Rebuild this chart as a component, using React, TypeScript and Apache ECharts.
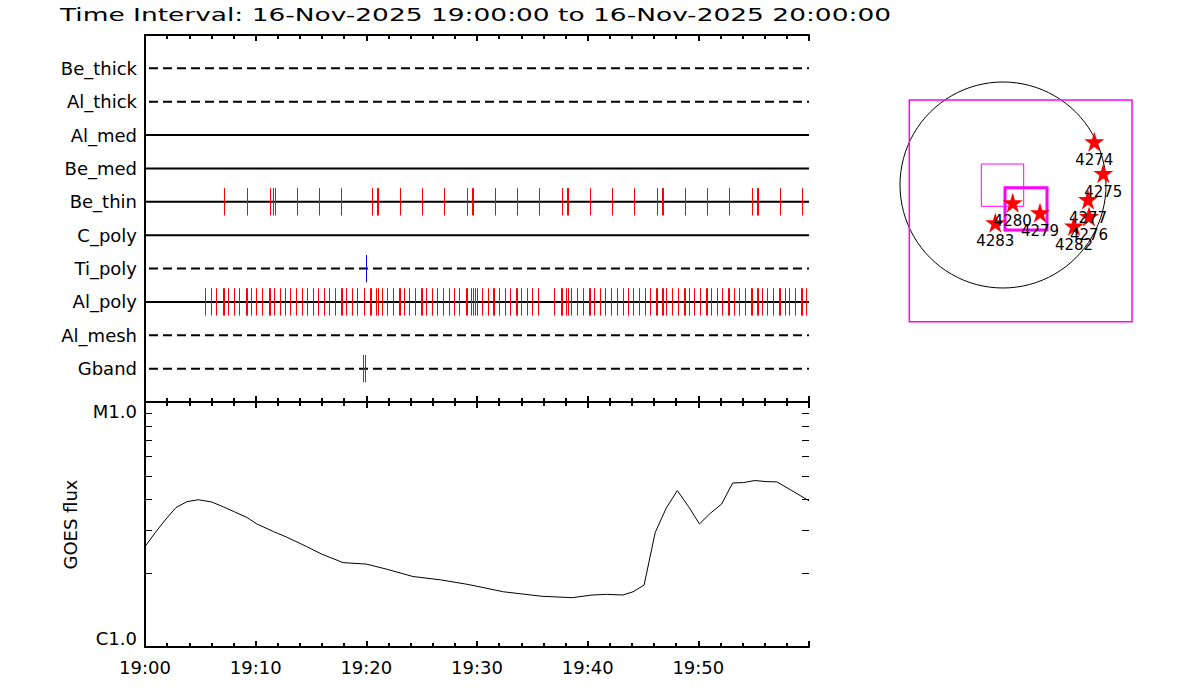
import React, { useEffect, useRef } from 'react';
import * as echarts from 'echarts';

const titleText = 'Time Interval: 16-Nov-2025 19:00:00 to 16-Nov-2025 20:00:00';
const startHour = 19;
const spanMinutes = 60;
const timeTickLabels = ['19:00', '19:10', '19:20', '19:30', '19:40', '19:50'];

const rowNames = ['Be_thick', 'Al_thick', 'Al_med', 'Be_med', 'Be_thin', 'C_poly', 'Ti_poly', 'Al_poly', 'Al_mesh', 'Gband'];
const rowInserted = [false, false, true, true, true, true, false, true, false, false];

const beThinTimes = [
  '19:07:10', '19:09:15', '19:11:19', '19:11:36', '19:11:46', '19:13:46', '19:15:45', '19:17:44',
  '19:20:32', '19:20:58', '19:21:03', '19:23:04', '19:25:03', '19:27:03', '19:29:07', '19:29:33',
  '19:29:38', '19:31:39', '19:33:38', '19:35:38', '19:37:42', '19:38:08', '19:38:13', '19:40:14',
  '19:42:14', '19:44:13', '19:46:18', '19:46:43', '19:46:48', '19:48:49', '19:50:49', '19:52:48',
  '19:54:53', '19:55:18', '19:55:23', '19:57:24', '19:59:24',
];
const tiPolyTimes = ['19:20:00'];
const alPolyTimes = [
  '19:05:27', '19:05:59', '19:06:27', '19:07:01', '19:07:06', '19:07:32', '19:08:04', '19:08:31',
  '19:09:06', '19:09:11', '19:09:36', '19:10:03', '19:10:36', '19:11:11', '19:11:16', '19:11:41',
  '19:12:14', '19:12:41', '19:13:08', '19:13:40', '19:14:13', '19:14:40', '19:15:12', '19:15:40',
  '19:16:12', '19:16:39', '19:17:12', '19:17:41', '19:17:46', '19:18:11', '19:18:44', '19:19:11',
  '19:19:49', '19:20:22', '19:20:27', '19:20:54', '19:21:05', '19:21:27', '19:21:54', '19:22:26',
  '19:22:55', '19:23:00', '19:23:26', '19:23:53', '19:24:25', '19:24:55', '19:25:00', '19:25:25',
  '19:25:54', '19:26:25', '19:26:57', '19:27:30', '19:27:57', '19:28:24', '19:28:59', '19:29:04',
  '19:29:27', '19:29:38', '19:29:49', '19:30:02', '19:30:29', '19:31:01', '19:31:28', '19:31:33',
  '19:32:01', '19:32:30', '19:33:01', '19:33:30', '19:33:35', '19:34:00', '19:34:33', '19:35:00',
  '19:35:32', '19:36:59', '19:37:34', '19:37:39', '19:38:04', '19:38:12', '19:38:31', '19:39:04',
  '19:39:36', '19:40:06', '19:40:11', '19:40:36', '19:41:09', '19:41:36', '19:42:08', '19:42:37',
  '19:43:10', '19:43:37', '19:44:07', '19:44:40', '19:45:09', '19:45:38', '19:46:09', '19:46:14',
  '19:46:41', '19:46:50', '19:47:06', '19:47:39', '19:48:11', '19:48:41', '19:48:46', '19:49:11',
  '19:49:38', '19:50:11', '19:50:43', '19:50:48', '19:51:10', '19:51:40', '19:52:10', '19:52:39',
  '19:52:44', '19:53:12', '19:53:42', '19:54:11', '19:54:44', '19:54:49', '19:55:16', '19:55:22',
  '19:55:44', '19:56:14', '19:56:43', '19:57:16', '19:57:21', '19:57:48', '19:58:13', '19:58:46',
  '19:59:15', '19:59:20', '19:59:44',
];
const gbandTimes = ['19:19:44', '19:19:53'];

// GOES flux: minutes after 19:00, flux in units of 1e-6 W/m^2
const goesMinutes = [
  0, 0.9, 1.9, 2.8, 3.8, 4.8, 6.0, 7.1, 8.1, 9.2, 10.1, 11.6, 12.8, 14.6, 16.0, 17.9, 20.0, 21.8,
  24.2, 26.7, 29.2, 32.4, 35.9, 38.6, 40.4, 41.7, 43.2, 44.1, 45.1, 46.1, 47.1, 48.1, 49.1, 50.1,
  51.1, 52.1, 53.1, 54.1, 55.1, 56.2, 57.1, 58.3, 60,
];
const goesFluxE6 = [
  2.57, 2.92, 3.33, 3.71, 3.92, 3.99, 3.91, 3.73, 3.56, 3.38, 3.18, 2.96, 2.81, 2.57, 2.39, 2.21, 2.18, 2.08,
  1.94, 1.88, 1.80, 1.68, 1.61, 1.59, 1.63, 1.64, 1.63, 1.68, 1.79, 2.93, 3.69, 4.35, 3.75, 3.18,
  3.52, 3.83, 4.67, 4.69, 4.78, 4.73, 4.72, 4.39, 3.95,
];
const goesClassFlux = [1e-6, 1e-5];
const goesClassLabels = ['C1.0', 'M1.0'];
const goesMinorFlux = [2e-6, 3e-6, 4e-6, 5e-6, 6e-6, 7e-6, 8e-6, 9e-6];

// Map (arcsec)
const arNumbers = ['4274', '4275', '4277', '4276', '4282', '4279', '4280', '4283'];
const arX = [913, 1003, 850, 860, 710, 370, 97, -77];
const arY = [433, 117, -145, -315, -410, -277, -177, -377];
const solarRadius = 1030;
const fovBox = [-937, 850, 1290, -1368];
const thinBox = [-217, 210, 207, -213];
const thickBox = [20, -27, 440, -450];

const FONT = '"DejaVu Sans", sans-serif';
const STAR = 'path://M50,0 L61.8,35.3 L100,35.3 L69.1,57.1 L80.9,92.7 L50,70.6 L19.1,92.7 L30.9,57.1 L0,35.3 L38.2,35.3 Z';

function toMinutes(s: string): number {
  const [h, m, sec] = s.split(':').map(Number);
  return (h - startHour) * 60 + m + sec / 60;
}

function rowValue(name: string): number {
  return rowNames.length - rowNames.indexOf(name);
}

function timeAxis(gridIndex: number, position: string, labels: boolean) {
  return {
    type: 'value',
    gridIndex,
    position,
    min: 0,
    max: spanMinutes,
    interval: 10,
    axisLine: { show: true, onZero: false, lineStyle: { color: '#000', width: 2 } },
    axisTick: { show: true, inside: true, length: 6, lineStyle: { color: '#000', width: 2 } },
    minorTick: { show: true, splitNumber: 5, length: 4, lineStyle: { color: '#000', width: 2 } },
    splitLine: { show: false },
    minorSplitLine: { show: false },
    axisLabel: labels
      ? {
          show: true,
          margin: 11,
          fontSize: 18,
          fontFamily: FONT,
          color: '#000',
          showMaxLabel: false,
          formatter: (v: number) => timeTickLabels[Math.round(v / 10)] ?? '',
        }
      : { show: false },
  };
}

function eventSeries(times: string[], row: string, color: string) {
  const v = rowValue(row);
  return {
    type: 'custom',
    xAxisIndex: 0,
    yAxisIndex: 0,
    silent: true,
    z: 5,
    data: times.map((t) => [toMinutes(t), v]),
    renderItem: (_p: any, api: any) => {
      const a = api.coord([api.value(0), api.value(1) + 0.41]);
      const b = api.coord([api.value(0), api.value(1) - 0.41]);
      const x = Math.round(a[0]) + 0.5;
      return {
        type: 'line',
        shape: { x1: x, y1: a[1], x2: x, y2: b[1] },
        style: { stroke: color, lineWidth: 1 },
      };
    },
  };
}

function boxSeries(box: number[], width: number) {
  return {
    type: 'custom',
    xAxisIndex: 4,
    yAxisIndex: 4,
    silent: true,
    z: 3,
    data: [box],
    renderItem: (_p: any, api: any) => {
      const p0 = api.coord([api.value(0), api.value(1)]);
      const p1 = api.coord([api.value(2), api.value(3)]);
      return {
        type: 'rect',
        shape: {
          x: Math.min(p0[0], p1[0]),
          y: Math.min(p0[1], p1[1]),
          width: Math.abs(p1[0] - p0[0]),
          height: Math.abs(p1[1] - p0[1]),
        },
        style: { fill: 'none', stroke: '#ff00ff', lineWidth: width },
      };
    },
  };
}

export default function App() {
  const ref = useRef<HTMLDivElement>(null);

  useEffect(() => {
    if (!ref.current) return;
    const chart = echarts.init(ref.current, null, { renderer: 'svg' });

    const log = (f: number) => Math.log10(f);
    const classVals = goesClassFlux.map(log);

    const goesYAxis = (position: string, labels: boolean) => ({
      type: 'value',
      gridIndex: 1,
      position,
      min: -6,
      max: -5,
      axisLine: { show: true, lineStyle: { color: '#000', width: 2 } },
      axisTick: { show: false },
      splitLine: { show: false },
      axisLabel: labels
        ? {
            show: true,
            customValues: classVals,
            margin: 8,
            fontSize: 18,
            fontFamily: FONT,
            color: '#000',
            verticalAlignMinLabel: 'bottom',
            verticalAlignMaxLabel: 'top',
            formatter: (v: number) => {
              const i = classVals.findIndex((c) => Math.abs(c - v) < 1e-6);
              return i >= 0 ? goesClassLabels[i] : '';
            },
          }
        : { show: false },
      name: labels ? 'GOES flux' : '',
      nameLocation: 'middle',
      nameRotate: 90,
      nameGap: 66,
      nameTextStyle: { fontSize: 18, fontFamily: FONT, color: '#000' },
    });

    const option: any = {
      animation: false,
      backgroundColor: '#ffffff',
      grid: [
        { left: 145, top: 35, width: 664, height: 367 },
        { left: 145, top: 402, width: 664, height: 245 },
        { left: 909, top: 100, width: 223, height: 222 },
      ],
      xAxis: [
        timeAxis(0, 'bottom', false),
        timeAxis(0, 'top', false),
        timeAxis(1, 'bottom', true),
        timeAxis(1, 'top', false),
        { type: 'value', gridIndex: 2, min: -940, max: 1290, show: false },
      ],
      yAxis: [
        {
          type: 'value',
          gridIndex: 0,
          position: 'left',
          min: 0,
          max: rowNames.length + 1,
          interval: 1,
          axisLine: { show: true, lineStyle: { color: '#000', width: 2 } },
          axisTick: { show: false },
          splitLine: { show: false },
          axisLabel: {
            show: true,
            margin: 8,
            fontSize: 18,
            fontFamily: FONT,
            color: '#000',
            formatter: (v: number) => {
              const i = rowNames.length - v;
              return i >= 0 && i < rowNames.length ? rowNames[i] : '';
            },
          },
        },
        {
          type: 'value',
          gridIndex: 0,
          position: 'right',
          min: 0,
          max: rowNames.length + 1,
          axisLine: { show: true, lineStyle: { color: '#000', width: 2 } },
          axisTick: { show: false },
          axisLabel: { show: false },
          splitLine: { show: false },
        },
        goesYAxis('left', true),
        goesYAxis('right', false),
        { type: 'value', gridIndex: 2, min: -1370, max: 850, show: false },
      ],
      graphic: [
        {
          type: 'text',
          x: 60,
          y: 15,
          scaleX: 1.47,
          style: {
            text: titleText,
            fontSize: 18,
            fontFamily: FONT,
            fill: '#000',
            align: 'left',
            verticalAlign: 'middle',
          },
        },
      ],
      series: [
        ...rowNames.map((name, i) => ({
          type: 'line',
          xAxisIndex: 0,
          yAxisIndex: 0,
          silent: true,
          symbol: 'none',
          z: 2,
          data: [
            [0, rowValue(name)],
            [spanMinutes, rowValue(name)],
          ],
          lineStyle: {
            color: '#000',
            width: 2,
            type: rowInserted[i] ? 'solid' : [9, 5],
            dashOffset: 10,
          },
        })),
        eventSeries(beThinTimes, 'Be_thin', '#ff0000'),
        eventSeries(alPolyTimes, 'Al_poly', '#ff0000'),
        eventSeries(tiPolyTimes, 'Ti_poly', '#0000ff'),
        eventSeries(gbandTimes, 'Gband', '#ff0000'),
        {
          // GOES minor ticks (log decade subdivisions) on both vertical edges, pointing inward
          type: 'custom',
          xAxisIndex: 2,
          yAxisIndex: 2,
          silent: true,
          z: 6,
          data: goesMinorFlux.map((f) => [log(f)]),
          renderItem: (_p: any, api: any) => {
            const l = api.coord([0, api.value(0)]);
            const r = api.coord([spanMinutes, api.value(0)]);
            const y = Math.round(l[1]) + 0.5;
            return {
              type: 'group',
              children: [
                { type: 'line', shape: { x1: l[0], y1: y, x2: l[0] + 7, y2: y }, style: { stroke: '#000', lineWidth: 1 } },
                { type: 'line', shape: { x1: r[0] - 7, y1: y, x2: r[0], y2: y }, style: { stroke: '#000', lineWidth: 1 } },
              ],
            };
          },
        },
        {
          type: 'line',
          xAxisIndex: 2,
          yAxisIndex: 2,
          silent: true,
          symbol: 'none',
          data: goesMinutes.map((m, i) => [m, log(goesFluxE6[i] * 1e-6)]),
          lineStyle: { color: '#000', width: 1 },
        },
        {
          type: 'custom',
          xAxisIndex: 4,
          yAxisIndex: 4,
          silent: true,
          z: 2,
          data: [[0, 0, solarRadius]],
          renderItem: (_p: any, api: any) => {
            const c = api.coord([api.value(0), api.value(1)]);
            const r = api.size([api.value(2), 0])[0];
            return {
              type: 'circle',
              shape: { cx: c[0], cy: c[1], r },
              style: { fill: 'none', stroke: '#000', lineWidth: 1 },
            };
          },
        },
        boxSeries(fovBox, 1.5),
        boxSeries(thinBox, 1),
        boxSeries(thickBox, 3),
        {
          type: 'scatter',
          xAxisIndex: 4,
          yAxisIndex: 4,
          silent: true,
          z: 4,
          symbol: STAR,
          symbolSize: 20,
          itemStyle: { color: '#ff0000', opacity: 1 },
          data: arNumbers.map((n, i) => ({ name: n, value: [arX[i], arY[i]] })),
          label: {
            show: true,
            position: 'bottom',
            distance: 1,
            formatter: '{b}',
            fontSize: 15,
            fontFamily: FONT,
            color: '#000',
          },
        },
      ],
    };

    chart.setOption(option);
    return () => chart.dispose();
  }, []);

  return (
    <div
      ref={ref}
      style={{ position: 'fixed', left: 0, top: 0, width: 1200, height: 700, background: '#fff' }}
    />
  );
}
